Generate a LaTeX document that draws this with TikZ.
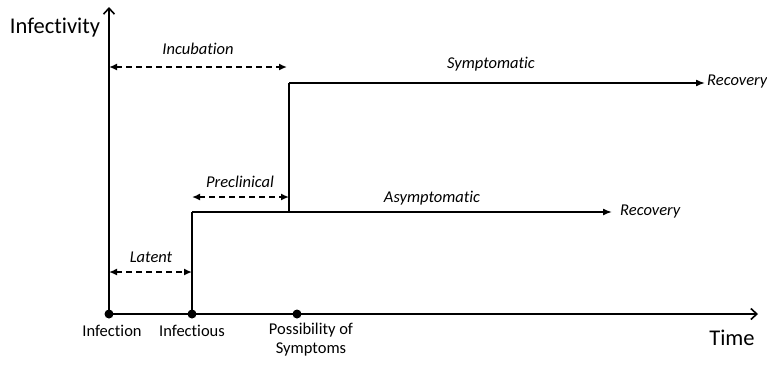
\documentclass[tikz,border=0pt]{standalone}
\usepackage{fontspec}
\setmainfont{Carlito}[Ligatures=CommonOff]
\usetikzlibrary{arrows.meta}
\begin{document}
\begin{tikzpicture}[x=1pt,y=-1pt,
  line/.style={line width=1.6pt},
  axis/.style={line width=1.6pt,-{Straight Barb[length=6pt,width=11pt]}},
  fwd/.style={line width=1.6pt,-{Latex[length=9pt,width=7pt]}},
  span/.style={line width=1.6pt,dashed,dash pattern=on 6pt off 4pt,{Latex[length=8pt,width=7pt]}-{Latex[length=8pt,width=7pt]}},
  dot/.style={circle,fill=black,inner sep=0pt,minimum size=9pt},
  lab/.style={font=\fontsize{16.5pt}{19pt}\selectfont},
  ilab/.style={font=\fontsize{16.5pt}{19pt}\selectfont\itshape},
  big/.style={font=\fontsize{22.5pt}{25pt}\selectfont}]
\useasboundingbox (0,0) rectangle (767,365);
% points
\node[dot] (inf) at (109,314) {};
\node[dot] (infs) at (192,314) {};
\node[dot] (pos) at (297,314) {};
\coordinate (ytop) at (109,7);
\coordinate (xend) at (758,314);
\coordinate (a1) at (192,212);
\coordinate (s0) at (289,212);
\coordinate (s1) at (289,83);
\coordinate (aend) at (612,212);
\coordinate (send) at (705,83);
% axes
\draw[axis] (inf.center) -- (ytop);
\draw[axis] (inf.center) -- (xend);
% steps
\draw[line] (infs.center) -- (a1);
\draw[fwd] (a1) -- (aend);
\draw[line] (s0) -- (s1);
\draw[fwd] (s1) -- (send);
% spans
\coordinate (incL) at (109,67); \coordinate (incR) at (287,67);
\coordinate (preL) at (192,197); \coordinate (preR) at (289,197);
\coordinate (latL) at (109,272); \coordinate (latR) at (192,272);
\draw[span] (incL) -- (incR);
\draw[span] (preL) -- (preR);
\draw[span] (latL) -- (latR);
% labels
\node[big] (ylab) at (55,28) {Infectivity};
\node[big] (xlab) at (732,338) {Time};
\node[ilab] (lInc) at (198,49) {Incubation};
\node[ilab] (lPre) at (240,182) {Preclinical};
\node[ilab] (lLat) at (151,257) {Latent};
\node[ilab] (lSym) at (491,64) {Symptomatic};
\node[ilab] (lAsy) at (432,198) {Asymptomatic};
\node[ilab,anchor=west,inner sep=1pt] (r1) at (706,82) {Recovery};
\node[ilab,anchor=west,inner sep=1pt] (r2) at (619,212) {Recovery};
\node[lab] (tInf) at (112,331) {Infection};
\node[lab] (tInfs) at (192,331) {Infectious};
\node[lab,align=center] (tPos) at (311,340) {Possibility of\\Symptoms};
\end{tikzpicture}
\end{document}
